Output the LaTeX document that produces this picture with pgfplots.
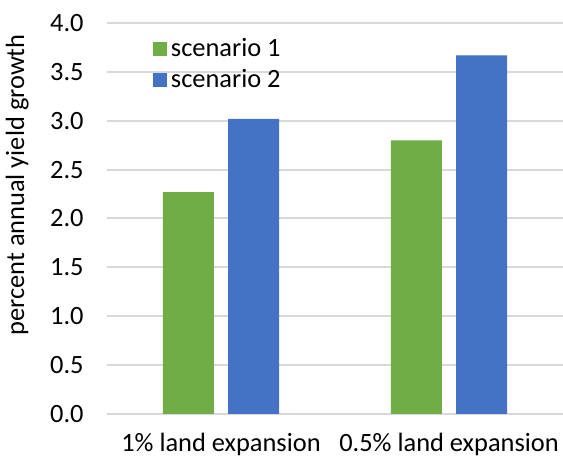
\documentclass[border=0pt]{standalone}
\usepackage{pgfplots}
\pgfplotsset{compat=1.18}
\usepackage{fontspec}
\setmainfont{Carlito}
\definecolor{sgreen}{HTML}{70AD47}
\definecolor{sblue}{HTML}{4472C4}
\definecolor{gridgray}{HTML}{D9D9D9}
\begin{document}
\begin{tikzpicture}
\begin{axis}[
  at={(0,0)}, anchor=south west,
  scale only axis,
  width=228pt, height=195.5pt,
  xmin=-0.5, xmax=1.5,
  ymin=0, ymax=4,
  xtick={0,1},
  xticklabels={1\% land expansion, 0.5\% land expansion},
  ytick={0,0.5,...,4},
  /pgf/number format/fixed,
  /pgf/number format/fixed zerofill,
  /pgf/number format/precision=1,
  /pgf/number format/assume math mode=true,
  yticklabel style={font=\fontsize{13.2}{16}\selectfont, inner sep=0pt, xshift=-11.5pt},
  xticklabel style={font=\fontsize{13.2}{16}\selectfont, inner sep=0pt, anchor=north, yshift=-9.3pt},
  major tick length=0pt,
  ymajorgrids,
  xmajorgrids=false,
  grid style={draw=gridgray, line width=1pt},
  axis line style={draw=none},
  ylabel={percent annual yield growth},
  ylabel style={font=\fontsize{13.2}{16}\selectfont, at={(axis description cs:-0.197,0.586)}, anchor=center},
  legend style={at={(axis description cs:0.099,0.972)}, anchor=north west, draw=none, fill=none, inner sep=0pt,
    font=\fontsize{13.2}{16}\selectfont, row sep=1pt, cells={anchor=west}},
  legend image code/.code={\fill[#1] (-1.5pt,-3.6pt) rectangle (5.7pt,3.6pt);},
]
\addplot[ybar, bar width=0.224, bar shift=-0.143, fill=sgreen, draw=none] coordinates {(0,2.27) (1,2.80)};
\addlegendentry{scenario 1}
\addplot[ybar, bar width=0.224, bar shift=0.143, fill=sblue, draw=none] coordinates {(0,3.02) (1,3.67)};
\addlegendentry{scenario 2}
\end{axis}
\pgfresetboundingbox
\path[use as bounding box] (-53.5pt,-22.5pt) rectangle (228pt,207pt);
\end{tikzpicture}
\end{document}
